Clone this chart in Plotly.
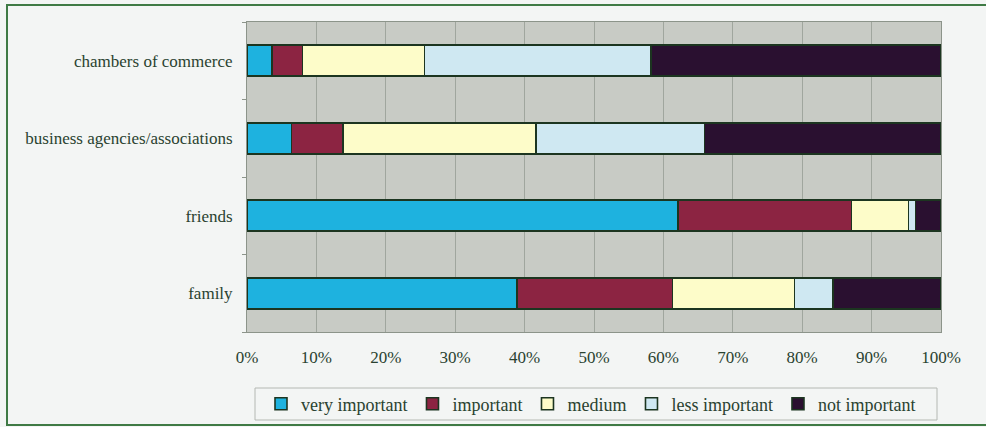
import plotly.graph_objects as go

# Sources of support, share of respondents by rated importance (%)
categories = ["family", "friends", "business agencies/associations", "chambers of commerce"]
levels = ["very important", "important", "medium", "less important", "not important"]

very_important = [38.9, 62.1, 6.4, 3.6]
important = [22.4, 25.0, 7.4, 4.4]
medium = [17.6, 8.2, 27.8, 17.6]
less_important = [5.5, 1.0, 24.3, 32.6]
not_important = [15.6, 3.7, 34.1, 41.8]

series = [very_important, important, medium, less_important, not_important]
colors = ["#1eb2df", "#8c2442", "#fdfcc9", "#cfe8f2", "#2a1030"]

tick_values = [0, 10, 20, 30, 40, 50, 60, 70, 80, 90, 100]
tick_labels = ["0%", "10%", "20%", "30%", "40%", "50%", "60%", "70%", "80%", "90%", "100%"]

TEXT = "#2a4230"
FONT = "Liberation Serif"

fig = go.Figure()
for name, vals, col in zip(levels, series, colors):
    fig.add_trace(go.Bar(
        y=categories, x=vals, name=name, orientation="h",
        marker=dict(color=col, line=dict(color="#1c3520", width=1.6)),
        hoverinfo="name+x",
    ))

# plot area in pixels: x 247..941, y 22..332
L, R, T, B = 247, 941, 22, 332
W, H = 986, 427

def px(x):
    return (x - L) / (R - L)

def py(y):
    return (B - y) / (B - T)

fig.update_layout(
    width=W, height=H,
    margin=dict(l=L, r=W - R, t=T, b=H - B, autoexpand=False),
    barmode="stack", bargap=0.6,
    paper_bgcolor="#f3f5f4", plot_bgcolor="#c8cbc5",
    font=dict(family=FONT, size=15, color=TEXT),
    showlegend=True,
    legend=dict(
        orientation="h", x=px(261), xanchor="left", y=py(404), yanchor="middle",
        bgcolor="rgba(0,0,0,0)", font=dict(family=FONT, size=18, color=TEXT),
        traceorder="normal", itemwidth=30,
    ),
    xaxis=dict(
        range=[0, 100], tickvals=tick_values, ticktext=tick_labels,
        showgrid=True, gridcolor="#a0a69e", gridwidth=1,
        ticks="outside", ticklen=10, tickcolor="rgba(0,0,0,0)",
        tickfont=dict(family=FONT, size=17, color=TEXT),
        showline=True, linecolor="#8c948a", mirror=True, zeroline=False,
    ),
    yaxis=dict(
        categoryorder="array", categoryarray=categories,
        tickson="boundaries", ticks="outside", ticklen=4, tickcolor="#8c948a",
        showgrid=False, showline=True, linecolor="#8c948a", mirror=True,
        tickfont=dict(family=FONT, size=17, color=TEXT),
        ticklabelstandoff=10,
    ),
    shapes=[
        # outer frame
        dict(type="rect", xref="paper", yref="paper",
             x0=px(7), x1=px(1000), y0=py(425), y1=py(5),
             line=dict(color="#3f7a45", width=2), fillcolor="rgba(0,0,0,0)", layer="below"),
        # legend box
        dict(type="rect", xref="paper", yref="paper",
             x0=px(255), x1=px(937), y0=py(420), y1=py(388),
             line=dict(color="#b4b8b3", width=1), fillcolor="rgba(0,0,0,0)"),
    ],
)

fig.write_html("out.html")
